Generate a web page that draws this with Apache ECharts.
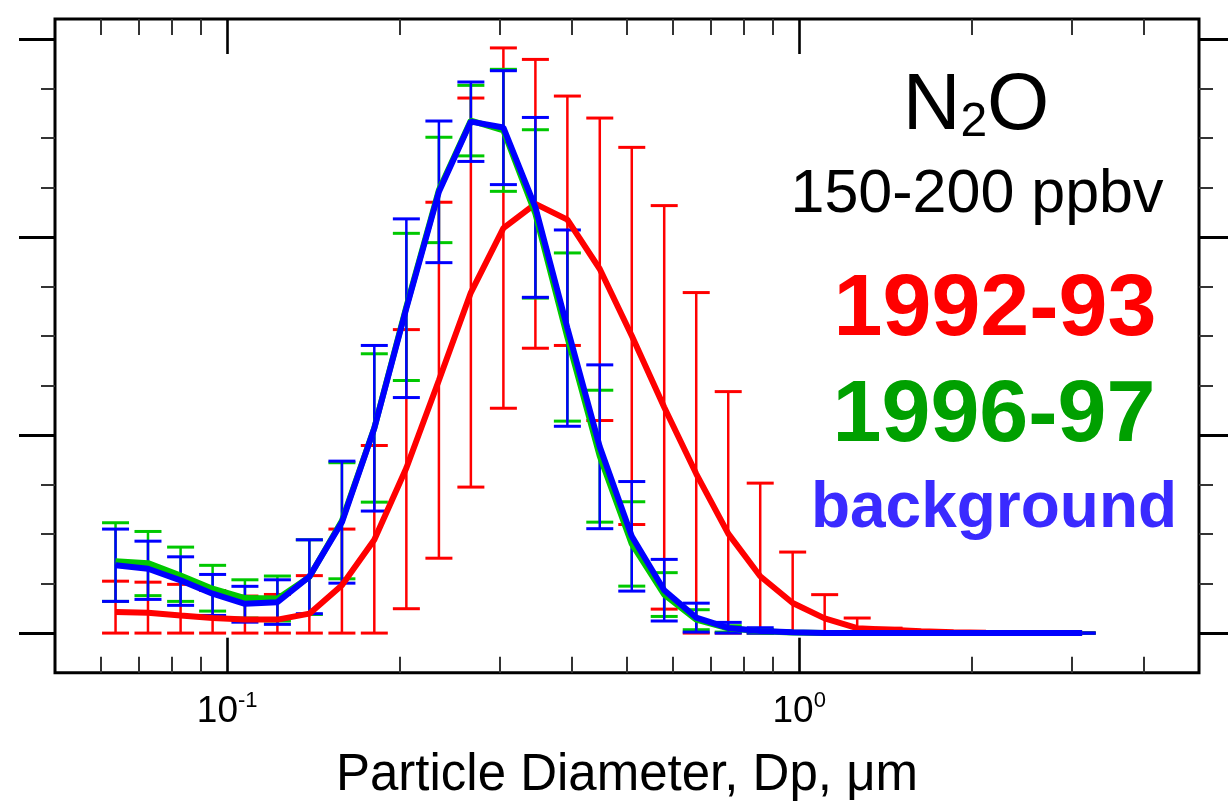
<!DOCTYPE html>
<html>
<head>
<meta charset="utf-8">
<title>N2O 150-200 ppbv size distribution</title>
<script src="https://cdn.jsdelivr.net/npm/echarts@6/dist/echarts.min.js"></script>
<style>
  html, body { margin: 0; padding: 0; background: #fff; }
  #chart { width: 1228px; height: 804px; }
</style>
</head>
<body>
<div id="chart"></div>
<script>
// particle diameter (um) of each size bin
const diam = [0.0638, 0.0727, 0.0829, 0.0943, 0.1074, 0.1224, 0.1392, 0.1587, 0.1808, 0.2057,
  0.2345, 0.2667, 0.304, 0.3458, 0.3933, 0.4481, 0.5097, 0.5808, 0.6607, 0.7515,
  0.8548, 0.9741, 1.108, 1.263, 1.436, 1.634, 1.862, 2.122, 2.414, 2.746, 3.123]

// 1992-93
const mean9293 = [0.106, 0.103, 0.089, 0.076, 0.068, 0.068, 0.098, 0.241, 0.471, 0.833,
  1.276, 1.719, 2.044, 2.167, 2.087, 1.838, 1.501, 1.140, 0.804, 0.502,
  0.287, 0.152, 0.074, 0.025, 0.017, 0.009, 0.004, 0.002, 0.001, 0, 0]
const hi9293 = [0.262, 0.257, 0.246, 0.215, 0.187, 0.195, 0.290, 0.525, 0.947, 1.532,
  2.175, 2.701, 2.954, 2.896, 2.711, 2.600, 2.452, 2.158, 1.719, 1.219,
  0.757, 0.409, 0.194, 0.076, 0.025, 0.010, 0.005, 0.003, 0.002, 0.001, 0]
const lo9293 = [0, 0, 0, 0, 0, 0, 0, 0, 0, 0.123,
  0.378, 0.737, 1.135, 1.438, 1.452, 1.073, 0.548, 0.121, 0, 0,
  0, 0, 0, 0, 0, 0, 0, 0, 0, 0, 0]

// 1996-97
const mean9697 = [0.363, 0.353, 0.291, 0.224, 0.177, 0.174, 0.283, 0.567, 1.035, 1.647,
  2.237, 2.587, 2.538, 2.117, 1.494, 0.893, 0.450, 0.194, 0.068, 0.024,
  0.009, 0.003, 0.001, 0, 0, 0, 0, 0, 0, 0, 0]
const hi9697 = [0.557, 0.513, 0.434, 0.342, 0.269, 0.288, 0.471, 0.860, 1.410, 2.018,
  2.503, 2.765, 2.846, 2.541, 1.919, 1.226, 0.663, 0.305, 0.118, 0.037,
  0.018, 0.006, 0.002, 0, 0, 0, 0, 0, 0, 0, 0]
const lo9697 = [0.160, 0.189, 0.160, 0.111, 0.076, 0.061, 0.094, 0.274, 0.661, 1.275,
  1.971, 2.409, 2.230, 1.691, 1.070, 0.560, 0.237, 0.084, 0.017, 0.005,
  0, 0, 0, 0, 0, 0, 0, 0, 0, 0, 0]

// background
const meanBg = [0.342, 0.325, 0.266, 0.199, 0.148, 0.156, 0.285, 0.560, 1.034, 1.640,
  2.228, 2.582, 2.552, 2.149, 1.540, 0.940, 0.489, 0.216, 0.078, 0.026,
  0.011, 0.004, 0.001, 0, 0, 0, 0, 0, 0, 0, 0]
const hiBg = [0.525, 0.464, 0.385, 0.296, 0.236, 0.269, 0.471, 0.868, 1.452, 2.091,
  2.585, 2.782, 2.839, 2.603, 2.035, 1.354, 0.765, 0.372, 0.151, 0.054,
  0.027, 0.008, 0.002, 0, 0, 0, 0, 0, 0, 0, 0]
const loBg = [0.160, 0.170, 0.140, 0.089, 0.055, 0.044, 0.098, 0.252, 0.616, 1.189,
  1.870, 2.381, 2.264, 1.695, 1.044, 0.527, 0.212, 0.061, 0.005, 0,
  0, 0, 0, 0, 0, 0, 0, 0, 0, 0, 0]

// tick positions
const xMajor = [0.1, 1]
const xMinor = [0.06, 0.07, 0.08, 0.09, 0.2, 0.3, 0.4, 0.5, 0.6, 0.7, 0.8, 0.9, 2, 3, 4]
const yMajor = [0, 1, 2, 3]
const yMinor = [0.25, 0.5, 0.75, 1.25, 1.5, 1.75, 2.25, 2.5, 2.75]

const FONT = '"Liberation Sans", Arial, Helvetica, sans-serif'
const RED = '#ff0000'
const GREEN = '#00c800'
const BLUE = '#0000ff'

const chart = echarts.init(document.getElementById('chart'))

const xAxisDef = (position, ticks, len, width, color, labels) => ({
  type: 'log',
  min: 0.05,
  max: 5,
  position: position,
  axisLine: { show: false, onZero: false },
  splitLine: { show: false },
  minorTick: { show: false },
  axisTick: {
    show: true,
    inside: true,
    length: len,
    customValues: ticks,
    lineStyle: { color: color, width: width }
  },
  axisLabel: labels ? {
    show: true,
    customValues: xMajor,
    margin: 17,
    formatter: v => '{b|10}{s|' + Math.round(Math.log10(v)) + '}',
    rich: {
      b: { fontSize: 37, lineHeight: 44, fontFamily: FONT, color: '#000' },
      s: { fontSize: 22, fontFamily: FONT, color: '#000', verticalAlign: 'top' }
    }
  } : { show: false }
})

const yAxisDef = (position, ticks, len, width, color) => ({
  type: 'value',
  min: -0.2,
  max: 3.1,
  position: position,
  axisLine: { show: false, onZero: false },
  splitLine: { show: false },
  axisLabel: { show: false },
  axisTick: {
    show: true,
    inside: false,
    length: len,
    customValues: ticks,
    lineStyle: { color: color, width: width }
  }
})

const errorBars = (lo, hi, color) => ({
  type: 'custom',
  data: diam.map((d, i) => [d, lo[i], hi[i]]),
  renderItem: (params, api) => {
    const top = api.coord([api.value(0), api.value(2)])
    const bot = api.coord([api.value(0), api.value(1)])
    const hw = 13.5
    return {
      type: 'group',
      children: [
        { type: 'line', shape: { x1: top[0], y1: top[1], x2: bot[0], y2: bot[1] },
          style: { stroke: color, lineWidth: 2.5 } },
        { type: 'line', shape: { x1: top[0] - hw, y1: top[1], x2: top[0] + hw, y2: top[1] },
          style: { stroke: color, lineWidth: 3 } },
        { type: 'line', shape: { x1: bot[0] - hw, y1: bot[1], x2: bot[0] + hw, y2: bot[1] },
          style: { stroke: color, lineWidth: 3 } }
      ]
    }
  }
})

const meanLine = (vals, color, name) => ({
  name: name,
  type: 'line',
  data: diam.map((d, i) => [d, vals[i]]),
  symbol: 'none',
  smooth: false,
  lineStyle: { color: color, width: 6 }
})

chart.setOption({
  animation: false,
  backgroundColor: '#fff',
  grid: {
    left: 55,
    top: 19,
    width: 1144,
    height: 653.7,
    show: true,
    borderColor: '#000',
    borderWidth: 3,
    backgroundColor: 'transparent'
  },
  xAxis: [
    xAxisDef('bottom', xMajor, 35, 2.6, '#000', true),
    xAxisDef('bottom', xMinor, 16, 2, '#333', false),
    xAxisDef('top', xMajor, 35, 2.6, '#000', false),
    xAxisDef('top', xMinor, 16, 2, '#333', false)
  ],
  yAxis: [
    yAxisDef('left', yMajor, 36, 3, '#000'),
    yAxisDef('left', yMinor, 14, 2, '#333'),
    yAxisDef('right', yMajor, 36, 3, '#000'),
    yAxisDef('right', yMinor, 14, 2, '#333')
  ],
  series: [
    errorBars(lo9293, hi9293, RED),
    meanLine(mean9293, RED, '1992-93'),
    errorBars(lo9697, hi9697, GREEN),
    meanLine(mean9697, GREEN, '1996-97'),
    errorBars(loBg, hiBg, BLUE),
    meanLine(meanBg, BLUE, 'background')
  ],
  graphic: [
    {
      type: 'text', x: 976, y: 107,
      style: {
        text: '{n|N}{sub|2}{n|O}',
        align: 'center', verticalAlign: 'middle',
        rich: {
          n: { fontSize: 80, fontFamily: FONT, fill: '#000' },
          sub: { fontSize: 48, fontFamily: FONT, fill: '#000', verticalAlign: 'bottom' }
        }
      }
    },
    {
      type: 'text', x: 977, y: 195,
      style: { text: '150-200 ppbv', font: '61px ' + FONT, fill: '#000',
        align: 'center', verticalAlign: 'middle' }
    },
    {
      type: 'text', x: 995, y: 311,
      style: { text: '1992-93', font: 'bold 88px ' + FONT, fill: RED,
        align: 'center', verticalAlign: 'middle' }
    },
    {
      type: 'text', x: 994, y: 417,
      style: { text: '1996-97', font: 'bold 88px ' + FONT, fill: '#00a000',
        align: 'center', verticalAlign: 'middle' }
    },
    {
      type: 'text', x: 994, y: 509,
      style: { text: 'background', font: 'bold 64px ' + FONT, fill: '#3a2aff',
        align: 'center', verticalAlign: 'middle' }
    },
    {
      type: 'text', x: 627, y: 776,
      style: { text: 'Particle Diameter, Dp, \u03bcm', font: '51px ' + FONT, fill: '#000',
        align: 'center', verticalAlign: 'middle' }
    }
  ]
})
</script>
</body>
</html>
